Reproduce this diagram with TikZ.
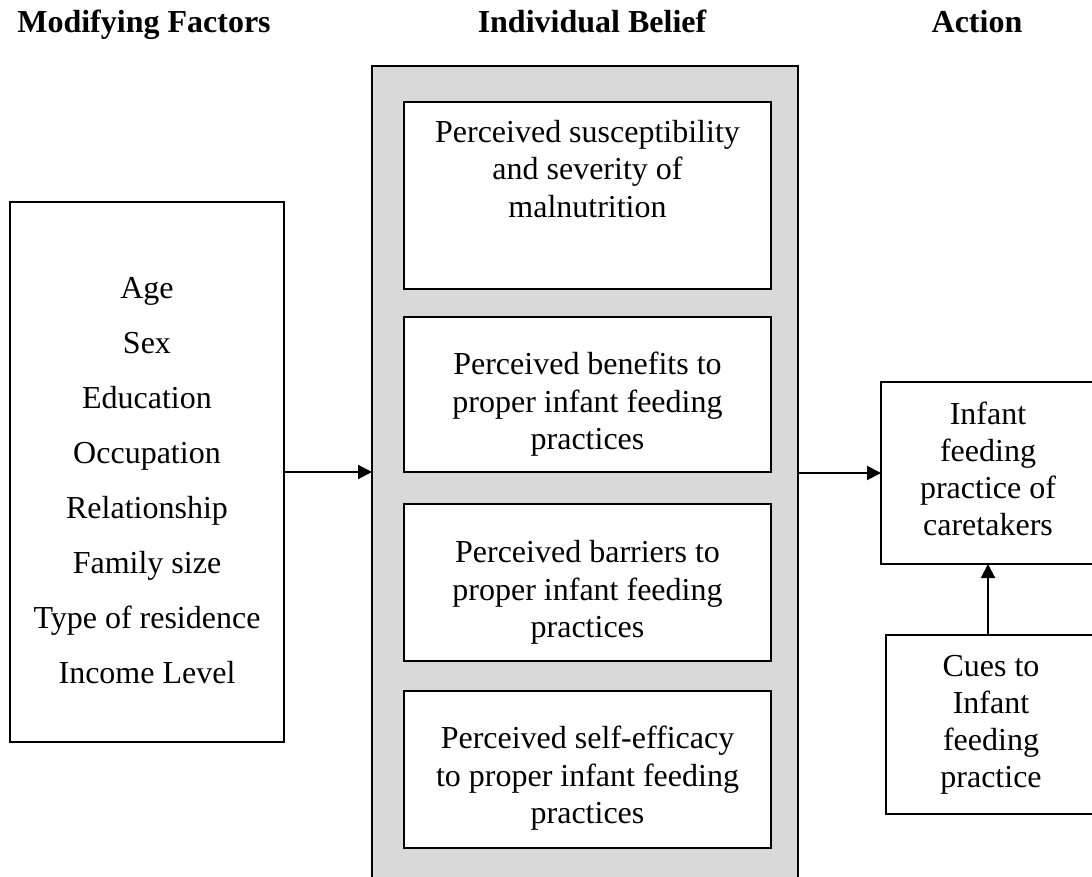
\documentclass[tikz,border=0pt]{standalone}
\usepackage{fontspec}
\setmainfont{Liberation Serif}
\usetikzlibrary{positioning,arrows.meta}
\newcommand{\boxtext}[4]{\parbox[c][#2][c]{#1}{\centering\vspace*{#3}#4}}
\tikzset{head node/.style={font=\bfseries\fontsize{16}{19}\selectfont,anchor=base,inner sep=0pt},
  factor node/.style={draw,line width=1.3pt,outer sep=0pt,inner sep=0pt,minimum width=137pt,minimum height=270pt,font=\fontsize{16}{27.5}\selectfont},
  group node/.style={draw,line width=1.3pt,outer sep=0pt,fill=black!15,minimum width=213pt,minimum height=420pt},
  belief node/.style={draw,line width=1.3pt,outer sep=0pt,fill=white,minimum width=183.5pt,inner sep=0pt,font=\fontsize{16}{18.75}\selectfont},
  action node/.style={draw,line width=1.3pt,outer sep=0pt,inner sep=0pt,font=\fontsize{16}{18.5}\selectfont},
  arrow line/.style={draw,line width=1pt,-{Triangle[length=7pt,width=7pt]}},}

\begin{document}
\begin{tikzpicture}[x=0.5pt,y=-0.5pt]
      \clip (0,0) rectangle (1092,877);

      \node[head node] (h1) at (144,33) {Modifying Factors};
      \node[head node] (h2) at (592,33) {Individual Belief};
      \node[head node] (h3) at (977,33) {Action};

      \node[factor node] (1) at (147,472)
        {\boxtext{137pt}{270pt}{9pt}{Age\\Sex\\Education\\Occupation\\Relationship\\Family size\\Type of residence\\Income Level}};

      \node[group node] (2) at (585,486) {};
      \node[belief node] (3) at (587.5,195.5)
        {\parbox[c][93.5pt][t]{183.5pt}{\centering\vspace*{9pt}Perceived susceptibility\\and severity of\\malnutrition}};
      \node[belief node] (4) [below = 14pt of 3] {\boxtext{183.5pt}{77.5pt}{10pt}{Perceived benefits to\\proper infant feeding\\practices}};
      \node[belief node] (5) [below = 16pt of 4] {\boxtext{183.5pt}{78.5pt}{10pt}{Perceived barriers to\\proper infant feeding\\practices}};
      \node[belief node] (6) [below = 15pt of 5] {\boxtext{183.5pt}{78.5pt}{9pt}{Perceived self-efficacy\\to proper infant feeding\\practices}};

      \node[action node] (7) at (988,473) {\boxtext{107pt}{91pt}{-4pt}{Infant\\feeding\\practice of\\caretakers}};
      \node[action node] (8) at (991,724.5) {\boxtext{105pt}{89.5pt}{0pt}{Cues to\\Infant\\feeding\\practice}};

      %\draw (1) to (2)
      \path
        (1.east) edge[arrow line] (1.east -| 2.west)
        (2.east |- 7.west) edge[arrow line] (7.west)
        (8.north -| 7.south) edge[arrow line] (7.south);

\end{tikzpicture}
\end{document}
